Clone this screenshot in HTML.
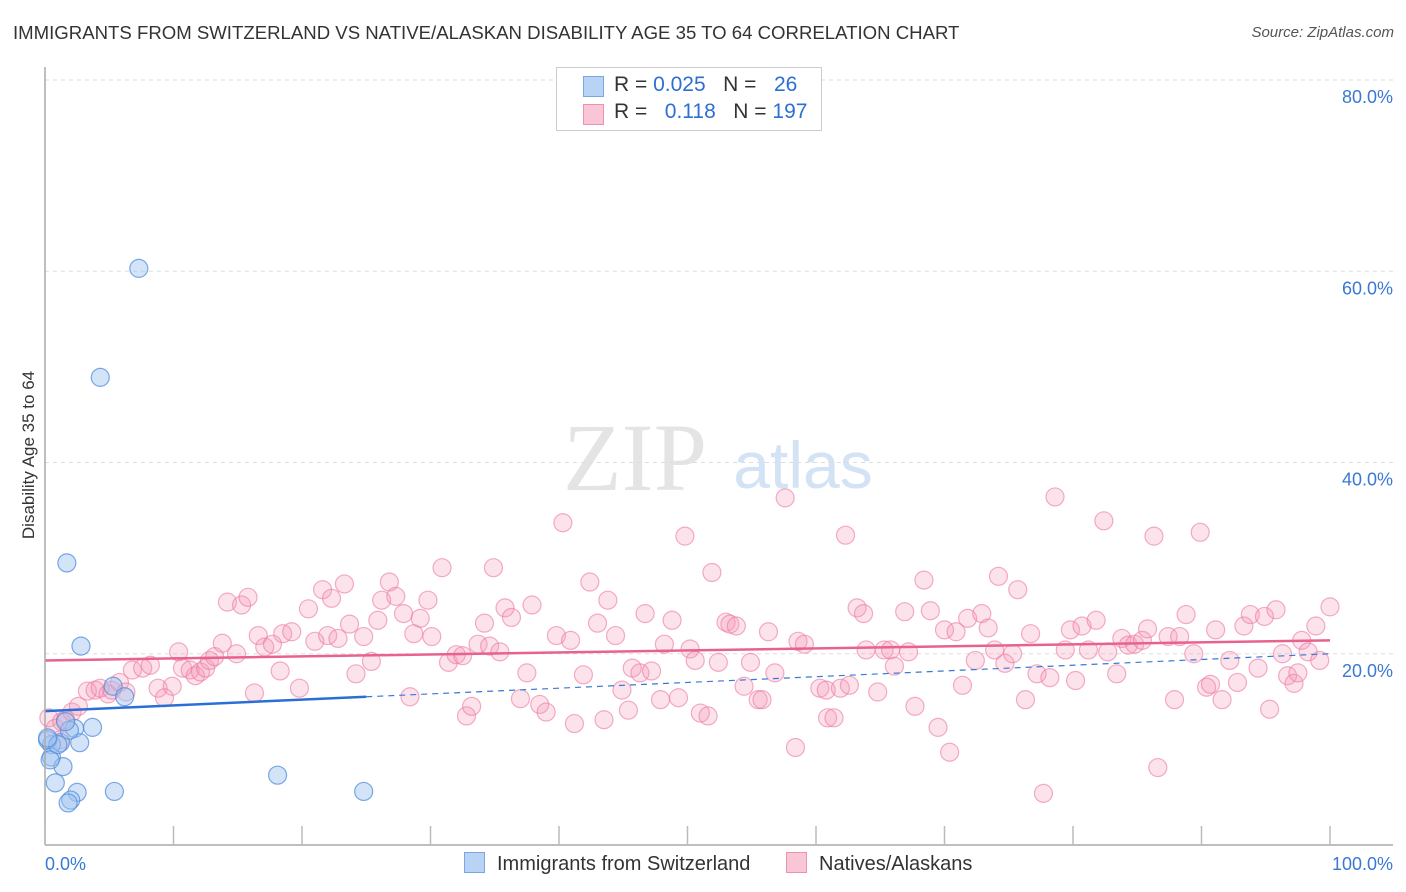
<!DOCTYPE html>
<html><head><meta charset="utf-8"><style>
body{margin:0;background:#fff;font-family:"Liberation Sans",sans-serif;}
#wrap{position:relative;width:1406px;height:892px;overflow:hidden;}
.t{position:absolute;white-space:nowrap;}
</style></head><body>
<div id="wrap">
<div class="t" style="left:13px;top:22px;font-size:18.6px;color:#333;">IMMIGRANTS FROM SWITZERLAND VS NATIVE/ALASKAN DISABILITY AGE 35 TO 64 CORRELATION CHART</div>
<div class="t" style="right:12px;top:24px;font-size:15px;color:#555;font-style:italic;">Source: ZipAtlas.com</div>
<svg id="svg" width="1406" height="892" style="position:absolute;left:0;top:0">
<text x="635" y="490" font-family="Liberation Serif" font-size="96" fill="#e4e4e4" text-anchor="middle">ZIP</text>
<text x="803" y="488" font-family="Liberation Sans" font-size="66" fill="#d3e3f5" text-anchor="middle">atlas</text>
<g id="grid"></g><g id="marks"></g><g id="axes"></g>
<text x="34" y="455" transform="rotate(-90 34 455)" font-size="17" fill="#333" text-anchor="middle">Disability Age 35 to 64</text>
</svg>
<div style="position:absolute;left:556px;top:67px;width:264px;height:62px;border:1px solid #ccc;background:#fff;font-size:21px;">
 <div style="position:absolute;left:26px;top:8px;width:19px;height:19px;background:#b9d3f5;border:1px solid #7aa6e6;"></div>
 <div class="t" style="left:57px;top:5px;color:#333;">R = <span style="color:#2d6fd1">0.025</span>&nbsp;&nbsp;&nbsp;N = &nbsp;&nbsp;<span style="color:#2d6fd1">26</span></div>
 <div style="position:absolute;left:26px;top:36px;width:19px;height:19px;background:#f9c6d6;border:1px solid #ee90b0;"></div>
 <div class="t" style="left:57px;top:32px;color:#333;">R = &nbsp;&nbsp;<span style="color:#2d6fd1">0.118</span>&nbsp;&nbsp;&nbsp;N = <span style="color:#2d6fd1">197</span></div>
</div>
<div style="position:absolute;left:464px;top:852px;font-size:20px;color:#333;">
 <span style="position:absolute;left:0;top:0;white-space:nowrap;"><span style="display:inline-block;width:19px;height:19px;background:#b9d3f5;border:1px solid #7aa6e6;vertical-align:-3px;margin-right:12px;"></span>Immigrants from Switzerland</span>
 <span style="position:absolute;left:322px;top:0;white-space:nowrap;"><span style="display:inline-block;width:19px;height:19px;background:#f9c6d6;border:1px solid #ee90b0;vertical-align:-3px;margin-right:12px;"></span>Natives/Alaskans</span>
</div>
</div>
<script>
const yTicks=[20,40,60,80];
const yTickLabels=["20.0%","40.0%","60.0%","80.0%"];
const xTicks=[0,10,20,30,40,50,60,70,80,90,100];
const xEndLabels=["0.0%","100.0%"];
const blueX=[7.3,4.3,1.7,2.8,3.7,2.3,1.2,2.7,0.5,1.9,1.6,5.3,6.2,0.2,0.5,1.4,0.8,2.5,5.4,2.0,1.8,18.1,24.8,0.4,1.0,0.2];
const blueY=[60.3,48.9,29.5,20.8,12.3,12.2,10.7,10.7,10.5,12.0,12.9,16.6,15.5,11.0,9.2,8.2,6.5,5.5,5.6,4.7,4.4,7.3,5.6,8.9,10.5,11.2];
const pinkX=[0.3,0.8,1.2,1.3,1.6,2.1,2.6,3.3,3.9,4.3,4.9,5.2,5.8,6.3,6.8,7.6,8.2,8.8,9.3,9.9,10.4,10.7,11.3,11.7,12.1,12.5,12.8,13.2,13.8,14.2,14.9,15.3,15.8,16.3,16.6,17.1,17.7,18.3,18.5,19.2,19.8,20.5,21.0,21.6,22.0,22.3,22.8,23.3,23.7,24.2,24.8,25.4,25.9,26.2,26.8,27.3,27.9,28.4,28.7,29.2,29.8,30.1,30.9,31.4,32.0,32.5,32.8,33.2,33.7,34.2,34.6,34.9,35.4,35.8,36.3,37.0,37.5,37.9,38.5,39.0,39.8,40.3,40.9,41.2,41.9,42.4,43.0,43.5,43.8,44.4,44.9,45.4,45.7,46.3,46.7,47.2,47.9,48.2,48.8,49.3,49.8,50.2,50.6,51.0,51.6,51.9,52.4,53.0,53.3,53.8,54.4,54.9,55.5,55.8,56.3,56.8,57.6,58.4,58.6,59.1,60.3,60.8,60.9,61.4,61.9,62.3,62.6,63.2,63.7,63.9,64.8,65.3,65.8,66.1,66.9,67.2,67.7,68.4,68.9,69.5,70.0,70.4,70.9,71.4,71.8,72.4,72.9,73.4,73.9,74.2,74.7,75.3,75.7,76.3,76.7,77.2,77.7,78.2,78.6,79.4,79.8,80.2,80.7,81.2,81.8,82.4,82.7,83.4,83.8,84.3,84.8,85.4,85.8,86.3,86.6,87.4,87.9,88.3,88.8,89.4,89.9,90.4,90.7,91.1,91.6,92.2,92.8,93.3,93.8,94.4,94.9,95.3,95.8,96.3,96.7,97.2,97.5,97.8,98.3,98.9,99.2,100];
const pinkY=[13.3,12.2,11.0,12.9,13.1,13.9,14.5,16.1,16.2,16.4,15.8,16.2,17.0,16.0,18.3,18.5,18.8,16.4,15.4,16.6,20.2,18.5,18.3,17.7,18.1,18.5,19.3,19.7,21.1,25.4,20.0,25.1,25.9,15.9,21.9,20.7,21.0,18.2,22.1,22.3,16.4,24.7,21.3,26.7,21.9,25.8,21.6,27.3,23.1,17.9,21.8,19.2,23.5,25.6,27.5,26.0,24.2,15.5,22.1,23.7,25.6,21.8,29.0,19.1,19.9,19.8,13.5,14.5,21.0,23.2,20.8,29.0,20.2,24.8,23.8,15.3,18.0,25.1,14.7,13.9,21.9,33.7,21.4,12.7,17.8,27.5,23.2,13.1,25.6,21.9,16.2,14.1,18.5,18.0,24.2,18.2,15.2,21.0,23.5,15.4,32.3,20.5,19.3,13.8,13.5,28.5,19.1,23.3,23.1,22.9,16.6,19.1,15.2,15.2,22.3,18.0,36.3,10.2,21.3,21.0,16.4,16.2,13.3,13.3,16.4,32.4,16.7,24.8,24.2,20.4,16.0,20.4,20.4,18.7,24.4,20.2,14.5,27.7,24.5,12.3,22.5,9.7,22.3,16.7,23.7,19.3,24.2,22.7,20.4,28.1,19.0,20.0,26.7,15.2,22.1,17.9,5.4,17.5,36.4,20.4,22.5,17.2,22.9,20.4,23.5,33.9,20.2,17.9,21.6,20.9,21.0,21.4,22.6,32.3,8.1,21.8,15.2,21.8,24.1,20.0,32.7,16.5,16.8,22.5,15.2,19.3,17.0,22.9,24.1,18.5,23.9,14.2,24.6,20.0,17.7,16.9,18.0,21.4,20.2,22.9,19.3,24.9];
const blueTrend=[14.0,20.0], blueSolidEnd=25;
const pinkTrend=[19.3,21.4];
const X=v=>45+v*12.85, Y=v=>845-v*9.5625;
const NS="http://www.w3.org/2000/svg";
function mk(parent,tag,attrs){const e=document.createElementNS(NS,tag);for(const k in attrs)e.setAttribute(k,attrs[k]);document.getElementById(parent).appendChild(e);return e;}
yTicks.forEach((t,i)=>{
 const g=mk('grid','line',{x1:45,x2:1393,y1:Y(t),y2:Y(t),stroke:'#ddd','stroke-dasharray':'4,4'});
 
 
 const tx=mk('axes','text',{x:1393,y:Y(t)+23,'font-size':18,fill:'#3a78d4','text-anchor':'end'});
 tx.textContent=yTickLabels[i];
 
 
});
const ya=mk('axes','line',{x1:45,x2:45,y1:67,y2:845,stroke:'#aaa','stroke-width':1.5});


const xa=mk('axes','line',{x1:45,x2:1393,y1:845,y2:845,stroke:'#aaa','stroke-width':1.5});


xTicks.forEach(t=>{const l=mk('axes','line',{x1:X(t),x2:X(t),y1:826,y2:845,stroke:'#bbb','stroke-width':1.5});
 
 });
const xl0=mk('axes','text',{x:45,y:870,'font-size':18,fill:'#3a78d4'});xl0.textContent=xEndLabels[0];


const xl1=mk('axes','text',{x:1393,y:870,'font-size':18,fill:'#3a78d4','text-anchor':'end'});xl1.textContent=xEndLabels[1];


pinkX.forEach((x,i)=>{const c=mk('marks','circle',{cx:X(x),cy:Y(pinkY[i]),r:9,fill:'rgba(244,150,182,0.28)',stroke:'rgba(236,120,160,0.6)','stroke-width':1.2});
 
 });
blueX.forEach((x,i)=>{const c=mk('marks','circle',{cx:X(x),cy:Y(blueY[i]),r:9,fill:'rgba(160,196,240,0.45)',stroke:'rgba(80,140,220,0.75)','stroke-width':1.2});
 
 });
const bAt=v=>blueTrend[0]+(blueTrend[1]-blueTrend[0])*v/100;
const bd=mk('marks','line',{x1:X(blueSolidEnd),y1:Y(bAt(blueSolidEnd)),x2:X(100),y2:Y(bAt(100)),stroke:'#3a78d4','stroke-width':1.2,'stroke-dasharray':'6,5'});


const bs=mk('marks','line',{x1:X(0),y1:Y(bAt(0)),x2:X(blueSolidEnd),y2:Y(bAt(blueSolidEnd)),stroke:'#2a6fd6','stroke-width':2.5});


const pt=mk('marks','line',{x1:X(0),y1:Y(pinkTrend[0]),x2:X(100),y2:Y(pinkTrend[1]),stroke:'#e8628e','stroke-width':2.5});


</script>
</body></html>
